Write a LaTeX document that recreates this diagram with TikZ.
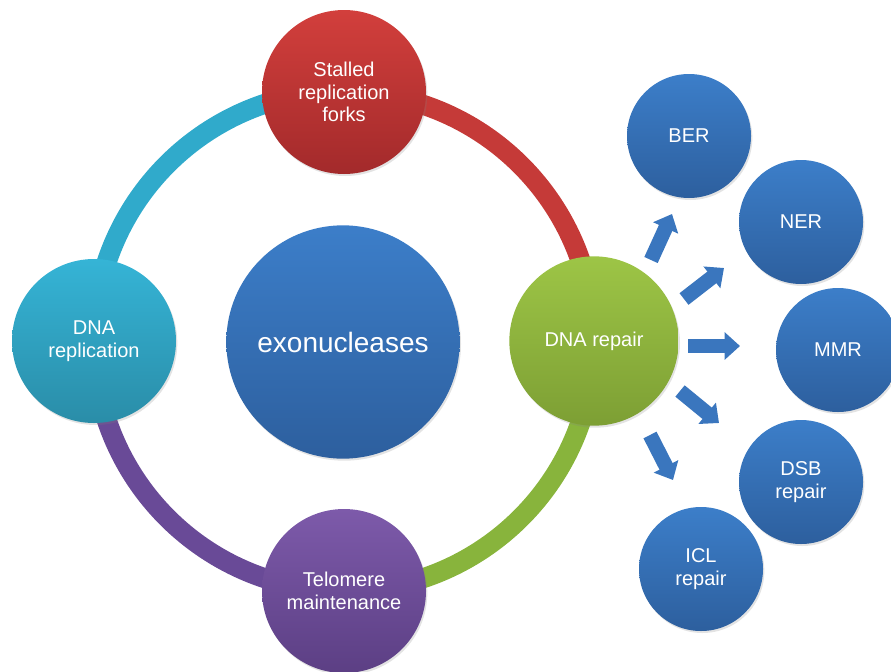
\documentclass[tikz,border=0pt]{standalone}
\usepackage{fontspec}
\setmainfont{Liberation Sans}
\usetikzlibrary{shadows,arrows.meta,calc,backgrounds}
\definecolor{bluetop}{HTML}{3C7EC9}
\definecolor{bluebot}{HTML}{2D5F9E}
\definecolor{redtop}{HTML}{D23F3C}
\definecolor{redbot}{HTML}{A32A2B}
\definecolor{cyantop}{HTML}{35B4D6}
\definecolor{cyanbot}{HTML}{2A8DA8}
\definecolor{greentop}{HTML}{9DC546}
\definecolor{greenbot}{HTML}{7D9F34}
\definecolor{purptop}{HTML}{7D5AAA}
\definecolor{purpbot}{HTML}{5C3F84}
\definecolor{ringcyan}{HTML}{30AACB}
\definecolor{ringred}{HTML}{C53A38}
\definecolor{ringgreen}{HTML}{88B43C}
\definecolor{ringpurple}{HTML}{694A97}
\definecolor{arrowblue}{HTML}{3A76BE}
\begin{document}
\begin{tikzpicture}[x=0.75pt,y=-0.75pt,
  bubble/.style={circle, inner sep=0pt, text=white, align=center,
    font=\fontsize{15}{17}\selectfont,
    drop shadow={opacity=0.22, shadow xshift=1pt, shadow yshift=-1.5pt}},
  bigbubble/.style={bubble, minimum size=123pt},
  smallbubble/.style={bubble, minimum size=93pt, top color=bluetop, bottom color=bluebot},
  ringarc/.style={line width=15pt},
  blockarrow/.style={draw=arrowblue, line width=11pt,
    -{Triangle[width=20pt,length=11.5pt]}}]
\useasboundingbox (0,0) rectangle (891,671);
\clip (0,0) rectangle (891,671);

% central node
\node[bubble, minimum size=175pt, top color=bluetop, bottom color=bluebot,
  font=\fontsize{21}{24}\selectfont] (exo) at (343,342) {exonucleases};

% ring nodes
\node[bigbubble, top color=redtop, bottom color=redbot] (forks) at (344,92) {Stalled\\replication\\forks};
\node[bigbubble, top color=cyantop, bottom color=cyanbot] (repl) at (94,341) {DNA\\replication};
\node[bubble, minimum size=127pt, top color=greentop, bottom color=greenbot] (repair) at (594,341) {DNA repair};
\node[bigbubble, top color=purptop, bottom color=purpbot] (telo) at (344,591) {Telomere\\maintenance};

% ring arcs, node to node, behind the nodes
\begin{scope}[on background layer]
\draw[ringarc, ringcyan]   (repl.center)   arc (180:270:250);
\draw[ringarc, ringred]    (forks.center)  arc (270:360:250);
\draw[ringarc, ringgreen]  (repair.center) arc (0:90:250);
\draw[ringarc, ringpurple] (telo.center)   arc (90:180:250);
\end{scope}

% repair pathways
\node[smallbubble] (ber) at (689,136) {BER};
\node[smallbubble] (ner) at (801,222) {NER};
\node[smallbubble] (mmr) at (838,350) {MMR};
\node[smallbubble] (dsb) at (801,482) {DSB\\repair};
\node[smallbubble] (icl) at (701,569) {ICL\\repair};

% arrow end points
\coordinate (a1s) at (651,260); \coordinate (a1e) at (672,214);
\coordinate (a2s) at (684,299); \coordinate (a2e) at (724,268);
\coordinate (a3s) at (688,346); \coordinate (a3e) at (740,346);
\coordinate (a4s) at (680,391); \coordinate (a4e) at (719,423);
\coordinate (a5s) at (650,435); \coordinate (a5e) at (673,480);

\begin{scope}[drop shadow={opacity=0.2, shadow xshift=1pt, shadow yshift=-1.5pt}]
\draw[blockarrow] (a1s) -- (a1e);
\draw[blockarrow] (a2s) -- (a2e);
\draw[blockarrow] (a3s) -- (a3e);
\draw[blockarrow] (a4s) -- (a4e);
\draw[blockarrow] (a5s) -- (a5e);
\end{scope}
\end{tikzpicture}
\end{document}
